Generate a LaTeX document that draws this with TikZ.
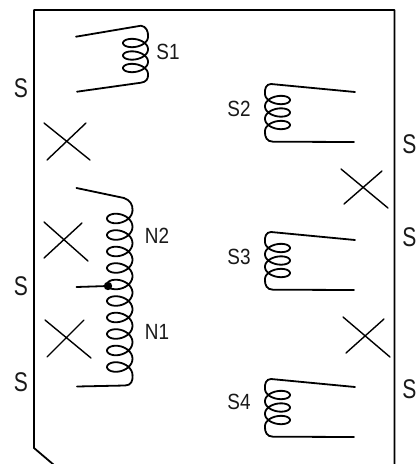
\documentclass[tikz,border=0pt]{standalone}
\usepackage{fontspec}
\setmainfont{Liberation Sans}
\newfontfamily\narrowa[FakeStretch=0.86]{Liberation Sans}
\newfontfamily\narrowb[FakeStretch=0.78]{Liberation Sans}
\tikzset{
  wire/.style={line width=1.8pt,line cap=round,line join=round,black},
  cross/.style={line width=1.4pt,line cap=round,black},
  lab/.style={inner sep=0pt,font=\narrowa\fontsize{22}{23}\selectfont,text=black!90},
  pin/.style={inner sep=0pt,font=\narrowb\fontsize{27}{28}\selectfont,text=black!90}
}
% #1 spine x, #2 first tip y, #3 loops, #4 pitch, #5 signed width, #6 lobe
\newcommand{\coilplot}[6]{%
  \draw[wire,domain=0:{360*(#3)},samples=300,smooth,variable=\t]
    plot ({#1+(#5)*0.5*(1-cos(\t))},{#2+(\t-180)/360*(#4)+(#6)*sin(\t)});}
\begin{document}
\begin{tikzpicture}[x=1pt,y=-1pt]
\useasboundingbox (0,0) rectangle (416,464);
\fill[white] (0,0) rectangle (416,464);
% frame
\coordinate (ft) at (34,10);
\coordinate (fb) at (34,448);
\coordinate (fe) at (54,465);
\coordinate (fr) at (394.5,10);
\coordinate (fq) at (394.5,465);
\draw[wire,line cap=butt] (fe) -- (fb) -- (ft) -- (fr) -- (fq);
% S1
\coilplot{148}{43}{3}{12.5}{-25}{7}
\draw[wire] (76,36.7) -- (141,25.7) .. controls (146,26.5) and (148.5,31) .. (148,36.75);
\draw[wire] (148,74.25) .. controls (148.5,79) and (146,82) .. (141,82.7) -- (77,91.7);
% N coil
\coilplot{132.5}{218.5}{10}{16.5}{-25.5}{8.5}
\draw[wire] (76.5,188) -- (124,198) .. controls (130,200) and (133,205) .. (132.5,210.25);
\draw[wire] (132.5,375.25) .. controls (133,381) and (131,385.5) .. (125,385.5) -- (77,386.5);
\draw[wire] (76.5,287) -- (108,286);
\fill (108,286) circle (4.2);
% S2, S3, S4
\foreach \d in {0,148,295}{
  \begin{scope}[yshift=-\d pt]
  \coilplot{265}{100}{3}{12.5}{25}{7}
  \draw[wire] (355,92) -- (271,84) .. controls (266,84) and (264.5,89) .. (265,93.75);
  \draw[wire] (265,131.25) .. controls (264.5,137) and (267,141.7) .. (273,141.7) -- (354,142);
  \end{scope}
}
% crosses
\draw[cross] (44,123) -- (90,160) (86,123) -- (47,160);
\draw[cross] (44,222) -- (88,261) (82,223) -- (44,258);
\draw[cross] (45,320) -- (91,358) (84,320) -- (47,357);
\draw[cross] (341,169) -- (388,208) (382,171) -- (344,204);
\draw[cross] (343,317) -- (390,357) (384,319) -- (346,353);
% labels
\node[lab] (s1) at (168,52) {S1};
\node[lab] (n2) at (157,236) {N2};
\node[lab] (n1) at (157,332) {N1};
\node[lab] (s2) at (239,109) {S2};
\node[lab] (s3) at (239,257) {S3};
\node[lab] (s4) at (239,402) {S4};
\node[pin] (la) at (21,88) {S};
\node[pin] (lb) at (21,286) {S};
\node[pin] (lc) at (21,382) {S};
\node[pin] (ra) at (409.5,144) {S};
\node[pin] (rb) at (409.5,237) {S};
\node[pin] (rc) at (409.5,389) {S};
\end{tikzpicture}
\end{document}
